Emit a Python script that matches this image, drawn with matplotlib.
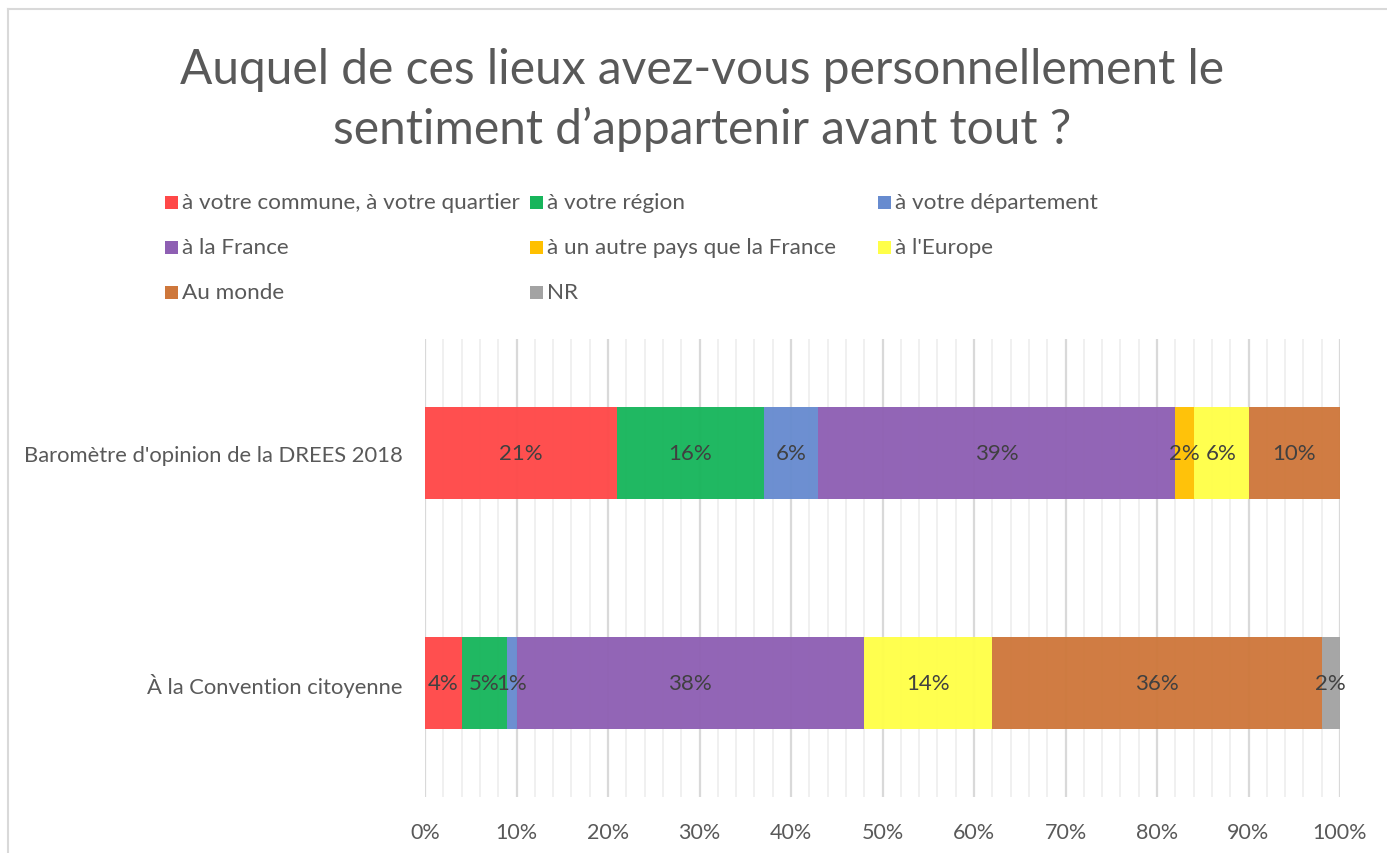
import matplotlib
matplotlib.use("Agg")
import matplotlib.pyplot as plt
from matplotlib.patches import Rectangle
from matplotlib.lines import Line2D
import numpy as np

plt.rcParams['font.family'] = ['Lato', 'DejaVu Sans']

categories = ["À la Convention citoyenne", "Baromètre d'opinion de la DREES 2018"]
series_names = ["à votre commune, à votre quartier", "à votre région", "à votre département",
                "à la France", "à un autre pays que la France", "à l'Europe",
                "Au monde", "NR"]
# values per series: [Convention, DREES]
commune = [4, 21]
region = [5, 16]
departement = [1, 6]
france = [38, 39]
autre_pays = [0, 2]
europe = [14, 6]
monde = [36, 10]
nr = [2, 0]
series_values = [commune, region, departement, france, autre_pays, europe, monde, nr]
colors = ["#FF4848", "#17B55B", "#678BCF", "#8E5FB3", "#FFC000", "#FFFF48", "#CE773B", "#A3A3A3"]
xtick_labels = ["0%", "10%", "20%", "30%", "40%", "50%", "60%", "70%", "80%", "90%", "100%"]

W, H = 1387, 854
fig = plt.figure(figsize=(W / 100, H / 100), dpi=100)

def fx(px):
    return px / W

def fy(py):
    return 1 - py / H

ax = fig.add_axes([fx(425), fy(798), fx(1340) - fx(425), fy(340) - fy(798)])

# gridlines
for v in np.arange(0, 101, 2):
    if v % 10 == 0:
        ax.axvline(v, color="#D9D9D9", lw=1.6, zorder=0)
    else:
        ax.axvline(v, color="#EEEEEE", lw=1.2, zorder=0)

y = np.arange(len(categories))
left = np.zeros(len(categories))
text_color = "#595959"
for name, vals, col in zip(series_names, series_values, colors):
    vals = np.array(vals, dtype=float)
    bars = ax.barh(y, vals, left=left, height=0.4, color=col, alpha=0.96, zorder=2, label=name)
    for b, v in zip(bars, vals):
        if v > 0:
            ax.text(b.get_x() + b.get_width() / 2, b.get_y() + b.get_height() / 2,
                    f"{int(v)}%", ha="center", va="center", fontsize=16, color="#404040", zorder=3)
    left += vals

ax.set_xlim(0, 100)
ax.set_ylim(-0.495, 1.496)
ax.set_xticks(np.arange(0, 101, 10))
ax.set_xticklabels(xtick_labels, fontsize=15.5, color=text_color)
ax.set_yticks(y)
ax.set_yticklabels(categories, fontsize=15.8, color=text_color)
ax.tick_params(axis="both", length=0)
ax.tick_params(axis="x", pad=18)
ax.tick_params(axis="y", pad=16)
for s in ax.spines.values():
    s.set_visible(False)

# title
fig.text(fx(702), fy(100), "Auquel de ces lieux avez-vous personnellement le\nsentiment d’appartenir avant tout ?",
         ha="center", va="center", fontsize=34.5, color=text_color, linespacing=1.38)

# legend (Excel-style, row-wise)
col_x = [165, 530, 878]
row_y = [203, 248, 293]
for i, (name, col) in enumerate(zip(series_names, colors)):
    r, c = divmod(i, 3)
    x0, y0 = col_x[c], row_y[r]
    fig.patches.append(Rectangle((fx(x0), fy(y0 + 6.5)), fx(12.5), fy(0) - fy(12.5),
                                 transform=fig.transFigure, facecolor=col, edgecolor="none"))
    fig.text(fx(x0 + 17), fy(y0), name, ha="left", va="center", fontsize=16.2, color=text_color)

# outer chart border
fig.add_artist(Line2D([fx(8), fx(8)], [fy(10), 0], transform=fig.transFigure, color="#D9D9D9", lw=1.5))
fig.add_artist(Line2D([fx(8), 1], [fy(10), fy(10)], transform=fig.transFigure, color="#D9D9D9", lw=1.5))

fig.savefig("out.png", dpi=100)
